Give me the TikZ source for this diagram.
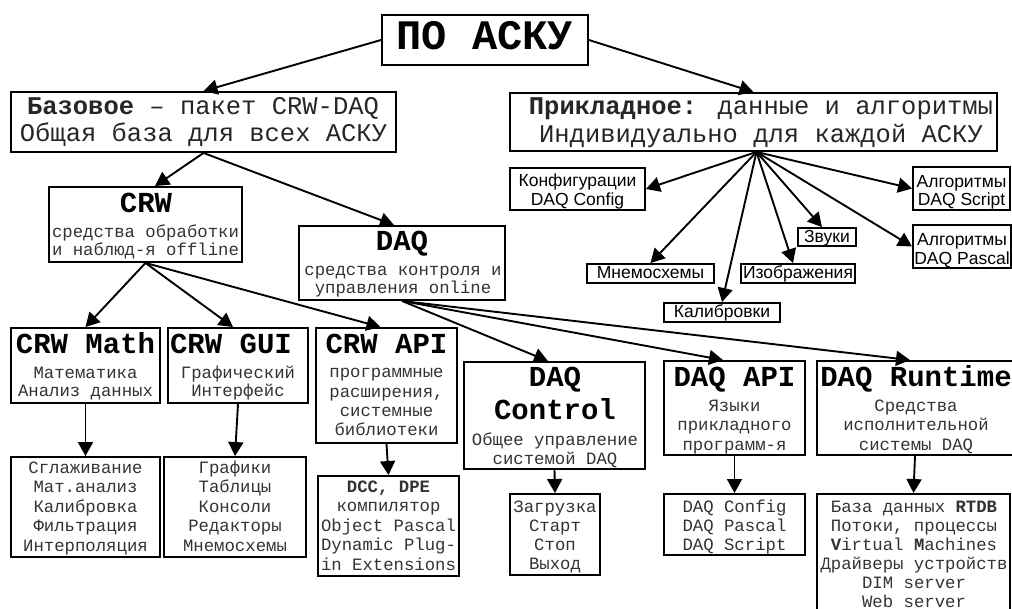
\documentclass[tikz,border=0pt]{standalone}
\usepackage{fontspec}
\setmainfont{Liberation Mono}
\newfontfamily\sansf{Liberation Sans}
\usetikzlibrary{arrows.meta}
\tikzset{
  box/.style={draw=black, line width=1.9pt, inner sep=0pt, fill=white},
  bigt/.style={font=\fontsize{42}{42}\selectfont\bfseries, anchor=base, inner sep=0pt},
  ttl/.style={font=\fontsize{29}{29}\selectfont\bfseries, anchor=base, inner sep=0pt},
  midt/.style={font=\fontsize{25.5}{25.5}\selectfont, anchor=base, inner sep=0pt, text=black!85},
  sm/.style={font=\fontsize{17.3}{17.3}\selectfont, anchor=base, inner sep=0pt, text=black!80},
  sf/.style={font=\sansf\fontsize{17.5}{17.5}\selectfont, anchor=base, inner sep=0pt},
  arr/.style={line width=1.9pt, -{Triangle[length=14pt,width=15pt]}},
}
\begin{document}
\begin{tikzpicture}[x=1pt,y=-1pt]
\useasboundingbox (0,0) rectangle (1012,609);
\clip (0,0) rectangle (1012,609);

% ---------- boxes ----------
\node[box, minimum width=206pt, minimum height=50pt] (top) at (485,40) {};
\node[box, minimum width=385pt, minimum height=60pt] (base) at (203.5,122) {};
\node[box, minimum width=487pt, minimum height=58pt] (app) at (753.5,122) {};
\node[box, minimum width=193pt, minimum height=75pt] (crw) at (145.5,224.5) {};
\node[box, minimum width=206pt, minimum height=74pt] (daq) at (402,263) {};
\node[box, minimum width=135pt, minimum height=42pt] (conf) at (577.5,189) {};
\node[box, minimum width=97pt, minimum height=43pt] (algs) at (961.5,188.5) {};
\node[box, minimum width=98pt, minimum height=43pt] (algp) at (962,246.5) {};
\node[box, minimum width=58pt, minimum height=18pt] (zvuki) at (827,237) {};
\node[box, minimum width=114pt, minimum height=19pt] (izob) at (798,273.5) {};
\node[box, minimum width=127pt, minimum height=19pt] (mnemo) at (650.5,273.5) {};
\node[box, minimum width=116pt, minimum height=19pt] (kalib) at (722,312.5) {};
\node[box, minimum width=149pt, minimum height=75pt] (math) at (85.5,365.5) {};
\node[box, minimum width=140pt, minimum height=75pt] (gui) at (238,365.5) {};
\node[box, minimum width=141pt, minimum height=115pt] (api) at (386.5,385.5) {};
\node[box, minimum width=149pt, minimum height=100pt] (smooth) at (85.5,507) {};
\node[box, minimum width=142pt, minimum height=100pt] (graph) at (235,507) {};
\node[box, minimum width=141pt, minimum height=100pt] (dcc) at (388.5,526) {};
\node[box, minimum width=181pt, minimum height=107pt] (ctrl) at (554.5,415.5) {};
\node[box, minimum width=90pt, minimum height=81pt] (load) at (555,534.5) {};
\node[box, minimum width=141pt, minimum height=94pt] (dapi) at (734.5,408) {};
\node[box, minimum width=141pt, minimum height=61pt] (dcfg) at (734.5,524.5) {};
\node[box, minimum width=196pt, minimum height=94pt] (rt) at (915,408) {};
\node[box, minimum width=193pt, minimum height=132pt] (db) at (913.5,560) {};

% ---------- texts ----------
\node[bigt] (topt) at (485,50) {ПО АСКУ};
\node[midt] (base1) at (203,115) {\textbf{Базовое} – пакет CRW-DAQ};
\node[midt] (base2) at (203.5,142) {Общая база для всех АСКУ};
\node[midt] (app1) at (761,115) {\textbf{Прикладное:} данные и алгоритмы};
\node[midt] (app2) at (761,143) {Индивидуально для каждой АСКУ};

\node[ttl] (crwT) at (146,213) {CRW};
\node[sm] (crw1) at (145.5,238) {средства обработки};
\node[sm] (crw2) at (145.5,256) {и наблюд-я offline};

\node[ttl] (daqT) at (402,251) {DAQ};
\node[sm] (daq1) at (403,276) {средства контроля и};
\node[sm] (daq2) at (403,294) {управления online};

\node[sf] (conf1) at (577.5,187) {Конфигурации};
\node[sf] (conf2) at (577.5,206) {DAQ Config};
\node[sf] (algs1) at (961.5,188) {Алгоритмы};
\node[sf] (algs2) at (961.5,206) {DAQ Script};
\node[sf] (algp1) at (962,246) {Алгоритмы};
\node[sf] (algp2) at (962,265) {DAQ Pascal};
\node[sf] (zvukit) at (827,243) {Звуки};
\node[sf] (izobt) at (798,279) {Изображения};
\node[sf] (mnemot) at (650.5,279) {Мнемосхемы};
\node[sf] (kalibt) at (722,318) {Калибровки};

\node[ttl] (mathT) at (85.5,354) {CRW Math};
\node[sm] (math1) at (85.5,379) {Математика};
\node[sm] (math2) at (85.5,397) {Анализ данных};

\node[ttl] (guiT) at (231,354) {CRW GUI};
\node[sm] (gui1) at (238,379) {Графический};
\node[sm] (gui2) at (238,397) {Интерфейс};

\node[ttl] (apiT) at (386.5,354) {CRW API};
\foreach \t [count=\i] in {программные,{расширения,},системные,библиотеки}
  \node[sm] (api\i) at (386.5,{378+19.3*(\i-1)}) {\t};

\foreach \t [count=\i] in {Сглаживание,Мат.анализ,Калибровка,Фильтрация,Интерполяция}
  \node[sm] (smooth\i) at (85.5,{473+19.5*(\i-1)}) {\t};

\foreach \t [count=\i] in {Графики,Таблицы,Консоли,Редакторы,Мнемосхемы}
  \node[sm] (graph\i) at (235,{473+19.5*(\i-1)}) {\t};

\foreach \t [count=\i] in {{\bfseries DCC, DPE},компилятор,Object Pascal,Dynamic Plug-,in Extensions}
  \node[sm] (dcc\i) at (388.5,{492+19.5*(\i-1)}) {\t};

\node[ttl] (ctrlT1) at (555,387) {DAQ};
\node[ttl] (ctrlT2) at (555,420) {Control};
\node[sm] (ctrl1) at (555,446) {Общее управление};
\node[sm] (ctrl2) at (555,464) {системой DAQ};

\foreach \t [count=\i] in {Загрузка,Старт,Стоп,Выход}
  \node[sm] (load\i) at (555,{512+19.3*(\i-1)}) {\t};

\node[ttl] (dapiT) at (734.5,387) {DAQ API};
\foreach \t [count=\i] in {Языки,прикладного,программ-я}
  \node[sm] (dapi\i) at (734.5,{412+19*(\i-1)}) {\t};

\foreach \t [count=\i] in {DAQ Config,DAQ Pascal,DAQ Script}
  \node[sm] (dcfg\i) at (734.5,{512+19*(\i-1)}) {\t};

\node[ttl] (rtT) at (916,387) {DAQ Runtime};
\foreach \t [count=\i] in {Средства,исполнительной,системы DAQ}
  \node[sm] (rt\i) at (916,{412+19*(\i-1)}) {\t};

\foreach \t [count=\i] in {База данных \textbf{RTDB},{Потоки, процессы},\textbf{V}irtual \textbf{M}achines,Драйверы устройств,DIM server,Web server}
  \node[sm] (db\i) at (914,{512+19*(\i-1)}) {\t};

% ---------- connectors ----------
\draw[arr] (top.west) -- (base.north);
\draw[arr] (top.east) -- (app.north);
\draw[arr] (base.south) -- ([xshift=9.5pt]crw.north);
\draw[arr] (base.south) -- ([xshift=-8pt]daq.north);
\draw[arr] (crw.south) -- (math.north);
\draw[arr] (crw.south) -- ([xshift=-5pt]gui.north);
\draw[arr] (crw.south) -- ([xshift=-6pt]api.north);
\draw[arr] (math.south) -- (smooth.north);
\draw[arr] (gui.south) -- (graph.north);
\draw[arr] (api.south) -- (dcc.north);
\draw[arr] (daq.south) -- ([xshift=-6.5pt]ctrl.north);
\draw[arr] (daq.south) -- ([xshift=-11.5pt]dapi.north);
\draw[arr] (daq.south) -- ([xshift=-5pt]rt.north);
\draw[arr] (ctrl.south) -- (load.north);
\draw[arr] (dapi.south) -- (dcfg.north);
\draw[arr] (rt.south) -- (db.north);

\coordinate (appo) at ([xshift=3pt]app.south);
\draw[arr] (appo) -- (conf.east);
\draw[arr] (appo) -- (mnemo.north);
\draw[arr] (appo) -- (kalib.north);
\draw[arr] (appo) -- ([xshift=-5pt]izob.north);
\draw[arr] (appo) -- ([xshift=-5pt]zvuki.north);
\draw[arr] (appo) -- (algs.west);
\draw[arr] (appo) -- (algp.west);
\end{tikzpicture}
\end{document}
